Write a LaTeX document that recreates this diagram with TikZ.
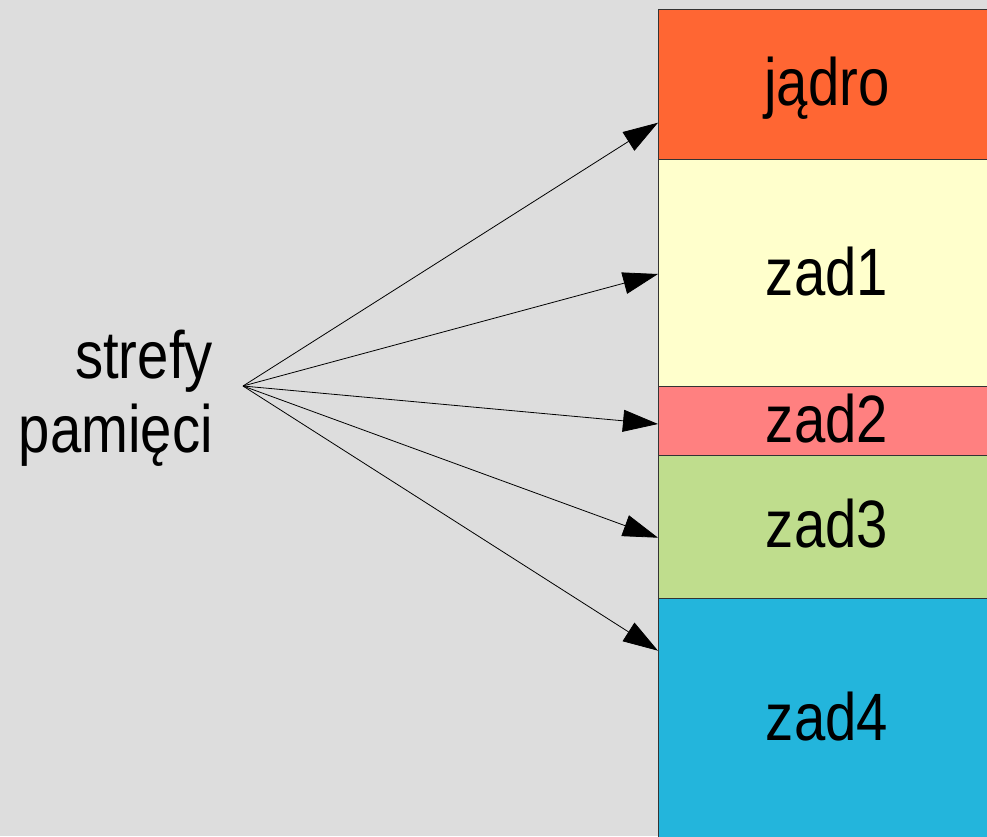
\documentclass[tikz,border=0pt]{standalone}
\usepackage{fontspec}
\setmainfont{Liberation Sans}[FakeStretch=0.84]
\usetikzlibrary{arrows.meta}
\definecolor{bg}{HTML}{DDDDDD}
\definecolor{cKern}{HTML}{FF6633}
\definecolor{cZa}{HTML}{FFFFCC}
\definecolor{cZb}{HTML}{FF8080}
\definecolor{cZc}{HTML}{BFDD8D}
\definecolor{cZd}{HTML}{23B5DC}
\definecolor{edge}{HTML}{333333}
\tikzset{
  zone/.style={draw=edge, line width=1pt, rectangle, inner sep=0pt, anchor=north west, minimum width=340pt},
  lbl/.style={inner sep=0pt, font=\fontsize{67}{74}\selectfont, anchor=base},
  side/.style={inner sep=0pt, font=\fontsize{67}{74}\selectfont, anchor=base east},
  ptr/.style={line width=0.8pt, -{Triangle[length=35pt, width=22pt]}}
}
\begin{document}
\begin{tikzpicture}[x=1pt, y=-1pt]
\useasboundingbox (0,0) rectangle (987,836);
\fill[bg] (0,0) rectangle (987,836);
\begin{scope}
\clip (0,0) rectangle (987,836);
\node[zone, fill=cKern, minimum height=150pt] (b0) at (658,9) {};
\node[zone, fill=cZa, minimum height=227pt] (b1) at (658,159) {};
\node[zone, fill=cZb, minimum height=69pt] (b2) at (658,386) {};
\node[zone, fill=cZc, minimum height=143pt] (b3) at (658,455) {};
\node[zone, fill=cZd, minimum height=260pt] (b4) at (658,598) {};
\end{scope}
\node[lbl] (t0) at (827,105) {jądro};
\node[lbl] (t1) at (827,295) {zad1};
\node[lbl] (t2) at (827,442) {zad2};
\node[lbl] (t3) at (827,547) {zad3};
\node[lbl] (t4) at (827,740) {zad4};
\node[side] (la) at (213,378) {strefy};
\node[side] (lb) at (213,452) {pamięci};
\coordinate (src) at (243,386);
\coordinate (p0) at (658,122.7);
\coordinate (p1) at (658,274);
\coordinate (p2) at (658,424);
\coordinate (p3) at (658,537.7);
\coordinate (p4) at (658,650.7);
\foreach \k in {0,...,4} \draw[ptr] (src) -- (p\k);
\end{tikzpicture}
\end{document}
